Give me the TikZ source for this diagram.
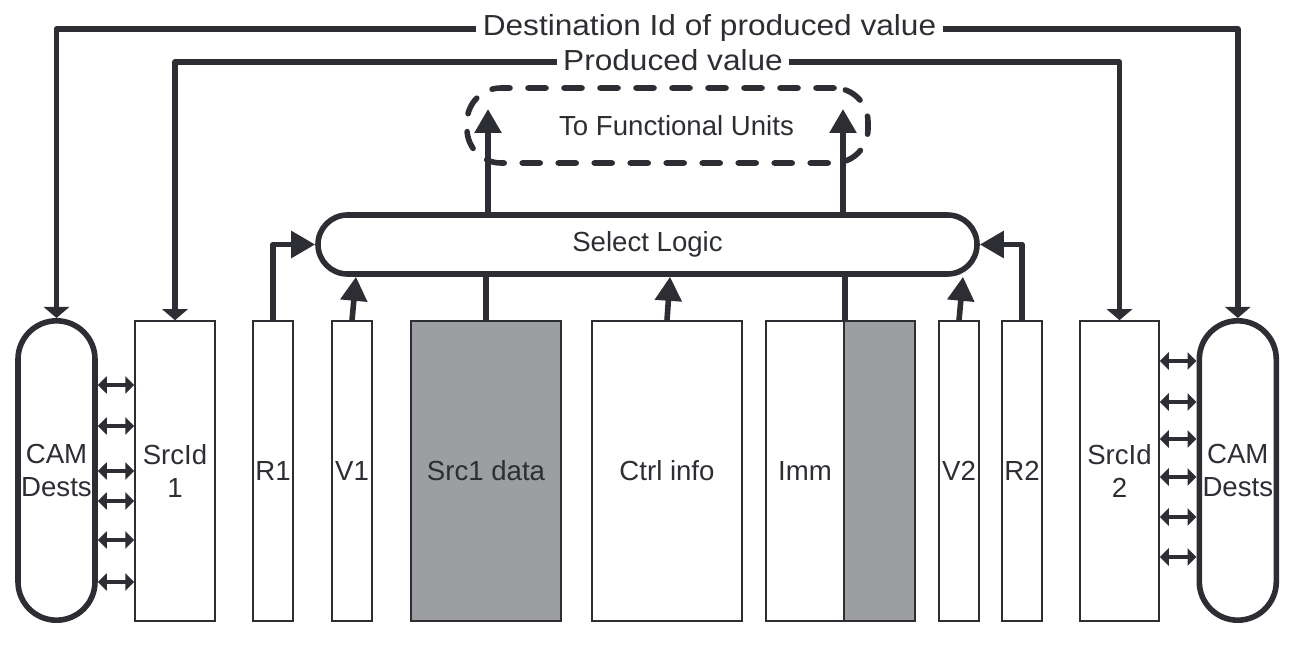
\documentclass[tikz,border=0pt]{standalone}
\usepackage{fontspec}
\setmainfont{Liberation Sans}
\newfontfamily\topfont[FakeStretch=1.09]{Liberation Sans}
\usetikzlibrary{arrows.meta,calc}
\definecolor{ink}{HTML}{2C2E33}
\definecolor{shade}{HTML}{9D9EA2}
\begin{document}
\begin{tikzpicture}[x=0.5pt,y=-0.5pt,
  every node/.style={text=ink},
  lab/.style={font=\fontsize{13.8pt}{16.5pt}\selectfont},
  field/.style={lab, draw=ink, line width=0.75pt, minimum height=150pt, inner sep=0pt, align=center},
  cam/.style={lab, draw=ink, line width=2.8pt, minimum width=38.5pt, minimum height=149.7pt, rounded corners=19.25pt, inner sep=0pt, align=center},
  wire/.style={draw=ink, line width=2.8pt, line join=round},
  big/.style={-{Triangle[length=12pt,width=13pt]}},
  drop/.style={-{Triangle[length=5.5pt,width=12.5pt]}},
  link/.style={draw=ink, line width=1.6pt, {Triangle[length=4.5pt,width=8.5pt]}-{Triangle[length=4.5pt,width=8.5pt]}},
  toplab/.style={font=\topfont\fontsize{14.5pt}{16pt}\selectfont, inner xsep=3pt, inner ysep=0pt},
]
\useasboundingbox (0,0) rectangle (1300,646);

% fields
\node[cam] (camL) at (56.5,470.5) {CAM\\Dests};
\node[field, minimum width=40pt] (srcL) at (175,471) {SrcId\\1};
\node[field, minimum width=20pt] (r1) at (273,471) {R1};
\node[field, minimum width=20pt] (v1) at (352,471) {V1};
\node[field, minimum width=75pt, fill=shade] (src1) at (486,471) {Src1 data};
\node[field, minimum width=75pt] (ctrl) at (667,471) {Ctrl info};
\node[field, minimum width=39pt] (imm) at (805,471) {Imm};
\node[field, minimum width=35.5pt, fill=shade] (immx) at (879.5,471) {};
\node[field, minimum width=20pt] (v2) at (959,471) {V2};
\node[field, minimum width=20pt] (r2) at (1022,471) {R2};
\node[field, minimum width=39.5pt] (srcR) at (1119.5,471) {SrcId\\2};
\node[cam] (camR) at (1237.8,470.5) {CAM\\Dests};

% select logic and functional units
\node[lab, draw=ink, line width=2.8pt, minimum width=329.5pt, minimum height=29.5pt, rounded corners=14.75pt, inner sep=0pt] (sel) at (647.5,244.5) {Select Logic};
\node[lab, draw=ink, line width=2.8pt, dash pattern=on 9pt off 9pt, line cap=round, minimum width=200.5pt, minimum height=37.5pt, rounded corners=17pt, inner sep=0pt] (fu) at (667.5,125.5) {\hspace*{9pt}To Functional Units};

% top labels
\node[toplab, text height=9.1pt, text depth=2.9pt] (dst) at (709.5,29) {Destination Id of produced value};
\node[toplab, text height=11.2pt, text depth=2.9pt] (pv) at (673,62) {Produced value};

% feedback wires
\draw[wire,drop] (dst.west) -| (camL.north);
\draw[wire,drop] (dst.east) -| (camR.north);
\draw[wire,drop] (pv.west) -| (srcL.north);
\draw[wire,drop] (pv.east) -| (srcR.north);

% into select logic
\draw[wire,big] (r1.north) |- (sel.west);
\draw[wire,big] (r2.north) |- (sel.east);
\draw[wire,big] (v1.north) -- ($(sel.south -| v1.north)+(4,0)$);
\draw[wire,big] (ctrl.north) -- ($(sel.south -| ctrl.north)+(3,0)$);
\draw[wire,big] (v2.north) -- ($(sel.south -| v2.north)+(4,0)$);
\draw[wire] (src1.north) -- (sel.south -| src1.north);
\draw[wire] (imm.north east) -- (sel.south -| imm.north east);

% to functional units
\coordinate (fuL) at (488,109);
\coordinate (fuR) at (843,109);
\draw[wire,big] (sel.north -| fuL) -- (fuL);
\draw[wire,big] (sel.north -| fuR) -- (fuR);

% CAM links
\foreach \d in {86,45,0,-30,-69,-111}{
  \coordinate (p) at ($(srcL.west)+(0,-\d)$);
  \draw[link] (camL.east |- p) -- (p);
}
\foreach \d in {110,69,32,-6,-46,-86}{
  \coordinate (q) at ($(srcR.east)+(0,-\d)$);
  \draw[link] (q) -- (camR.west |- q);
}
\end{tikzpicture}
\end{document}
